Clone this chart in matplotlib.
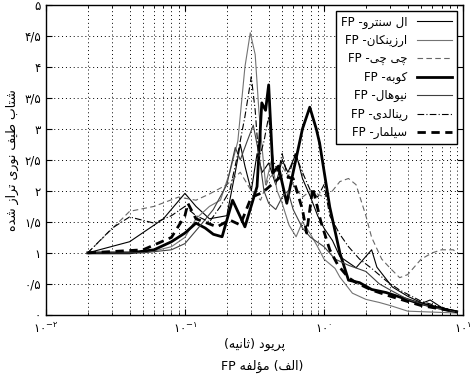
import numpy as np
import matplotlib
matplotlib.use("Agg")
import matplotlib.pyplot as plt
from matplotlib.ticker import FixedLocator, FixedFormatter, LogLocator, NullFormatter

# ---------------------------------------------------------------
# simple persian shaping (matplotlib has no RTL / joining support)
# ---------------------------------------------------------------
FORMS = {
    'ا': ('\uFE8D', '\uFE8E', None, None),
    'ب': ('\uFE8F', '\uFE90', '\uFE91', '\uFE92'),
    'پ': ('\uFB56', '\uFB57', '\uFB58', '\uFB59'),
    'ت': ('\uFE95', '\uFE96', '\uFE97', '\uFE98'),
    'ث': ('\uFE99', '\uFE9A', '\uFE9B', '\uFE9C'),
    'چ': ('\uFB7A', '\uFB7B', '\uFB7C', '\uFB7D'),
    'د': ('\uFEA9', '\uFEAA', None, None),
    'ر': ('\uFEAD', '\uFEAE', None, None),
    'ز': ('\uFEAF', '\uFEB0', None, None),
    'س': ('\uFEB1', '\uFEB2', '\uFEB3', '\uFEB4'),
    'ش': ('\uFEB5', '\uFEB6', '\uFEB7', '\uFEB8'),
    'ط': ('\uFEC1', '\uFEC2', '\uFEC3', '\uFEC4'),
    'ف': ('\uFED1', '\uFED2', '\uFED3', '\uFED4'),
    'ک': ('\uFB8E', '\uFB8F', '\uFB90', '\uFB91'),
    'ل': ('\uFEDD', '\uFEDE', '\uFEDF', '\uFEE0'),
    'م': ('\uFEE1', '\uFEE2', '\uFEE3', '\uFEE4'),
    'ن': ('\uFEE5', '\uFEE6', '\uFEE7', '\uFEE8'),
    'ه': ('\uFEE9', '\uFEEA', '\uFEEB', '\uFEEC'),
    'و': ('\uFEED', '\uFEEE', None, None),
    'ؤ': ('\uFE85', '\uFE86', None, None),
    'ی': ('\uFBFC', '\uFBFD', '\uFBFE', '\uFBFF'),
}
MIRROR = {'(': ')', ')': '('}


def fa(text):
    # shape letters and return them in visual (left-to-right) order
    out = []
    for i, ch in enumerate(text):
        if ch not in FORMS:
            out.append(MIRROR.get(ch, ch))
            continue
        prev = text[i - 1] if i > 0 else ''
        nxt = text[i + 1] if i + 1 < len(text) else ''
        join_prev = prev in FORMS and FORMS[prev][2] is not None
        join_next = FORMS[ch][2] is not None and nxt in FORMS
        iso, fin, ini, med = FORMS[ch]
        if join_prev and join_next:
            out.append(med)
        elif join_prev:
            out.append(fin)
        elif join_next:
            out.append(ini)
        else:
            out.append(iso)
    return ''.join(reversed(out))


def fa_digits(s):
    return s.translate(str.maketrans('0123456789.', '۰۱۲۳۴۵۶۷۸۹/'))


# ---------------------------------------------------------------
# data
# ---------------------------------------------------------------
names = ["ال سنترو", "ارزینکان", "چی چی", "کوبه", "نیوهال", "رینالدی", "سیلمار"]

t_elcentro = [0.02, 0.04, 0.07, 0.1, 0.12, 0.15, 0.2, 0.23, 0.25, 0.27, 0.3, 0.33, 0.36,
              0.4, 0.45, 0.5, 0.55, 0.63, 0.7, 0.8, 0.9, 1.0, 1.15, 1.3, 1.7, 2.2, 2.4,
              3.1, 4.0, 5.1, 5.8, 7.0, 9.0]
y_elcentro = [1.0, 1.18, 1.55, 1.96, 1.75, 1.55, 1.6, 2.3, 2.75, 2.4, 2.0, 2.6, 2.3,
              2.45, 2.1, 2.5, 2.3, 2.6, 2.2, 1.9, 1.6, 1.4, 1.2, 0.94, 0.76, 1.05, 0.77,
              0.45, 0.3, 0.19, 0.24, 0.12, 0.05]

t_erzincan = [0.02, 0.04, 0.06, 0.08, 0.1, 0.12, 0.15, 0.18, 0.21, 0.24, 0.27, 0.295, 0.32,
              0.34, 0.36, 0.38, 0.42, 0.46, 0.5, 0.56, 0.63, 0.7, 0.8, 0.9, 1.0, 1.2, 1.3,
              1.6, 2.0, 2.5, 3.0, 4.0, 9.0]
y_erzincan = [1.0, 1.0, 1.03, 1.1, 1.25, 1.55, 1.75, 1.85, 2.3, 2.8, 4.0, 4.55, 4.2,
              3.3, 2.66, 2.1, 2.5, 2.0, 1.8, 1.45, 1.26, 1.5, 1.3, 1.1, 0.9, 0.75, 0.61,
              0.35, 0.25, 0.2, 0.15, 0.06, 0.03]

t_chichi = [0.02, 0.04, 0.06, 0.09, 0.12, 0.15, 0.2, 0.25, 0.3, 0.35, 0.4, 0.5, 0.6, 0.7,
            0.8, 1.0, 1.15, 1.3, 1.5, 1.7, 2.0, 2.2, 2.6, 3.0, 3.5, 4.0, 5.0, 6.0, 7.0,
            8.5, 9.0]
y_chichi = [1.0, 1.67, 1.75, 1.9, 1.85, 1.95, 2.1, 2.3, 2.0, 1.85, 2.2, 2.4, 2.1, 1.9,
            2.0, 1.9, 2.0, 2.15, 2.2, 2.1, 1.6, 1.25, 0.9, 0.75, 0.6, 0.65, 0.9, 1.0, 1.05,
            1.05, 1.0]

t_kobe = [0.02, 0.04, 0.06, 0.08, 0.1, 0.12, 0.14, 0.16, 0.185, 0.22, 0.27, 0.33, 0.357,
          0.38, 0.4, 0.43, 0.47, 0.54, 0.6, 0.7, 0.79, 0.88, 0.93, 1.1, 1.3, 1.5, 1.8,
          2.2, 2.8, 4.6, 7.7, 9.0]
y_kobe = [1.0, 1.0, 1.05, 1.18, 1.32, 1.48, 1.4, 1.3, 1.26, 1.85, 1.42, 2.07, 3.42,
          3.3, 3.71, 2.29, 2.4, 1.8, 2.3, 3.0, 3.35, 3.0, 2.77, 1.74, 1.0, 0.56, 0.52,
          0.41, 0.36, 0.2, 0.08, 0.05]

t_newhall = [0.02, 0.05, 0.08, 0.1, 0.13, 0.16, 0.2, 0.23, 0.25, 0.28, 0.31, 0.34, 0.37,
             0.4, 0.45, 0.5, 0.55, 0.6, 0.7, 0.8, 1.0, 1.2, 1.5, 2.0, 2.5, 3.0, 4.0, 6.0,
             9.0]
y_newhall = [1.0, 1.0, 1.05, 1.15, 1.45, 1.7, 2.1, 2.7, 2.5, 2.8, 3.06, 2.6, 2.0,
             1.8, 1.7, 1.9, 2.0, 1.7, 1.4, 1.25, 1.1, 0.9, 0.8, 0.7, 0.5, 0.4, 0.25, 0.12,
             0.05]

t_rinaldi = [0.02, 0.03, 0.04, 0.06, 0.08, 0.1, 0.12, 0.15, 0.18, 0.21, 0.24, 0.27, 0.3,
             0.32, 0.34, 0.37, 0.4, 0.43, 0.47, 0.5, 0.55, 0.62, 0.7, 0.8, 0.9, 1.0, 1.1,
             1.3, 1.5, 1.8, 2.2, 2.8, 3.5, 5.0, 7.0, 9.0]
y_rinaldi = [1.0, 1.4, 1.58, 1.48, 1.6, 1.75, 1.6, 1.5, 1.75, 2.0, 2.6, 3.2, 3.84,
             3.3, 2.5, 2.8, 3.2, 2.5, 2.3, 2.6, 2.2, 2.6, 2.3, 2.0, 1.9, 2.1, 1.6,
             1.3, 1.1, 0.9, 0.75, 0.55, 0.4, 0.22, 0.12, 0.06]

t_sylmar = [0.02, 0.05, 0.08, 0.1, 0.105, 0.12, 0.17, 0.21, 0.25, 0.3, 0.36, 0.42, 0.5,
            0.6, 0.7, 0.75, 0.83, 0.95, 1.1, 1.26, 1.5, 1.7, 2.2, 3.0, 5.0, 9.0]
y_sylmar = [1.0, 1.05, 1.25, 1.6, 1.8, 1.55, 1.42, 1.53, 1.45, 1.9, 1.97, 2.1, 2.25,
            2.2, 1.7, 1.32, 2.05, 1.5, 1.05, 0.8, 0.6, 0.52, 0.4, 0.3, 0.15, 0.05]

series_t = [t_elcentro, t_erzincan, t_chichi, t_kobe, t_newhall, t_rinaldi, t_sylmar]
series_y = [y_elcentro, y_erzincan, y_chichi, y_kobe, y_newhall, y_rinaldi, y_sylmar]

styles = [
    dict(color='black', lw=0.8, ls='-'),
    dict(color='0.45', lw=0.8, ls='-'),
    dict(color='0.4', lw=0.8, ls=(0, (5, 3))),
    dict(color='black', lw=2.0, ls='-'),
    dict(color='0.25', lw=0.8, ls='-'),
    dict(color='black', lw=0.8, ls=(0, (6, 2, 1, 2))),
    dict(color='black', lw=2.0, ls=(0, (3, 2))),
]

y_ticks = [0, 0.5, 1, 1.5, 2, 2.5, 3, 3.5, 4, 4.5, 5]

# ---------------------------------------------------------------
# plot
# ---------------------------------------------------------------
plt.rcParams['font.family'] = ['DejaVu Sans']
plt.rcParams['mathtext.fontset'] = 'dejavusans'

fig = plt.figure(figsize=(4.73, 3.78), dpi=100)
ax = fig.add_axes([0.097, 0.167, 0.882, 0.82])

for t, y, st, nm in zip(series_t, series_y, styles, names):
    ax.plot(t, y, label='FP -' + fa(nm), **st)

ax.set_xscale('log')
ax.set_xlim(1e-2, 1e1)
ax.set_ylim(0, 5)

ax.xaxis.set_major_locator(FixedLocator([1e-2, 1e-1, 1e0, 1e1]))
ax.xaxis.set_major_formatter(FixedFormatter([
    r'$\mathdefault{۱۰^{-۲}}$', r'$\mathdefault{۱۰^{-۱}}$',
    r'$\mathdefault{۱۰^{۰}}$', r'$\mathdefault{۱۰^{۱}}$']))
ax.xaxis.set_minor_locator(LogLocator(base=10, subs=np.arange(2, 10)))
ax.xaxis.set_minor_formatter(NullFormatter())

ax.set_yticks(y_ticks)
ax.set_yticklabels([fa_digits(('%g' % v)) for v in y_ticks])

ax.grid(True, which='both', color='black', ls=(0, (1, 3)), lw=0.7)
ax.tick_params(which='both', direction='in', top=True, right=True, labelsize=8.5)
ax.tick_params(which='major', length=4)
ax.tick_params(which='minor', length=2)
ax.tick_params(axis='x', pad=5)
for sp in ax.spines.values():
    sp.set_linewidth(1.0)

ax.set_ylabel(fa("شتاب طیف نوری تراز شده"), fontsize=9)
ax.set_xlabel(fa("پریود (ثانیه)"), fontsize=9, labelpad=1)
fig.text(0.554, 0.022, 'FP ' + fa("(الف) مؤلفه"), ha='center', fontsize=9)

leg = ax.legend(loc='upper right', markerfirst=False, fontsize=8.5, handlelength=3,
                labelspacing=0.45, borderpad=0.4, fancybox=False, framealpha=1,
                edgecolor='black', borderaxespad=0.5)
leg.get_frame().set_linewidth(1.0)

fig.savefig('out.png', dpi=100)
